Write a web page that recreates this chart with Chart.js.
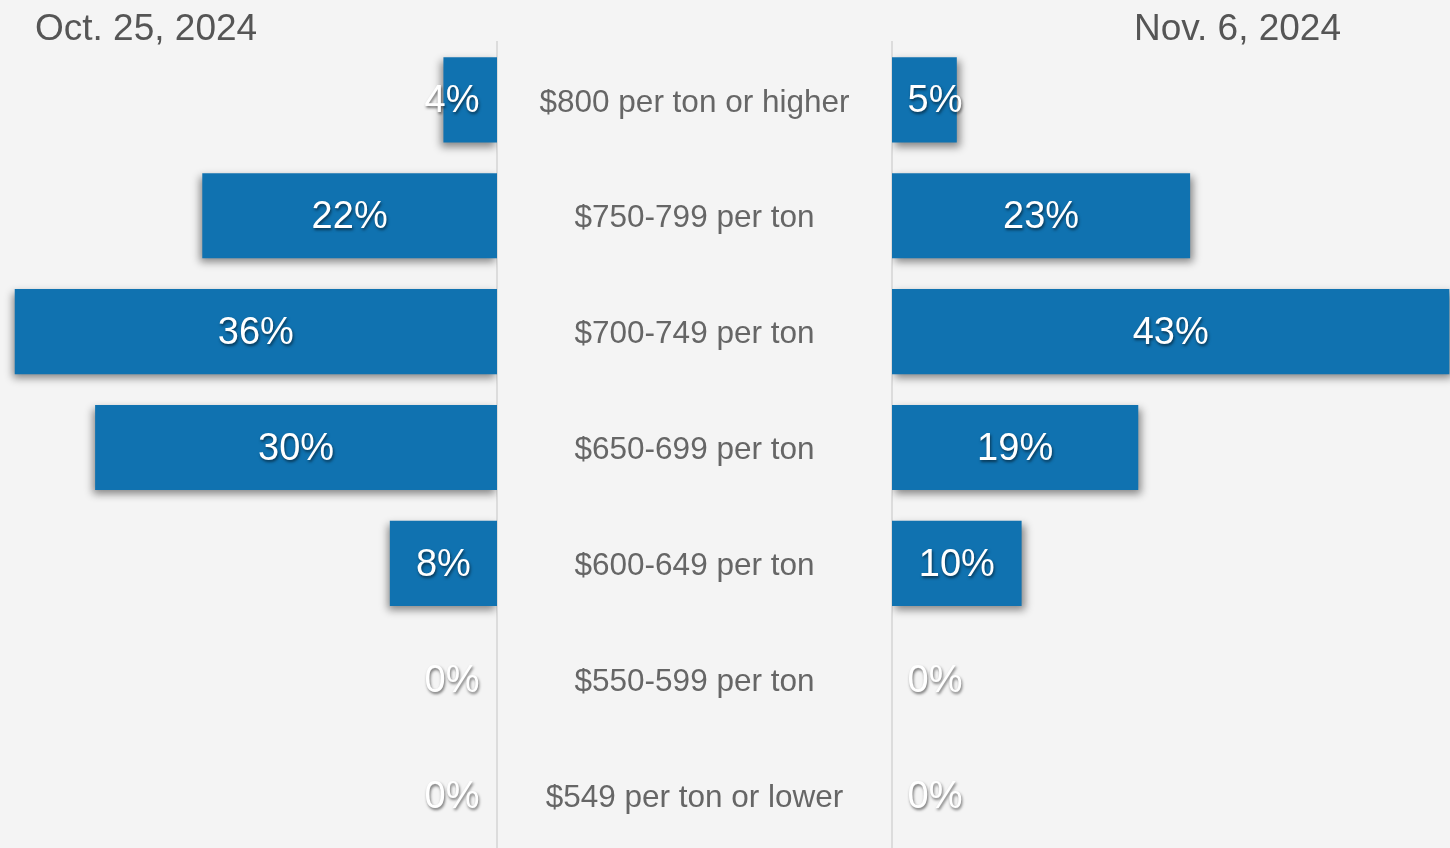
<!DOCTYPE html>
<html>
<head>
<meta charset="utf-8">
<script src="https://cdn.jsdelivr.net/npm/chart.js@4.4.1/dist/chart.umd.min.js"></script>
<style>
  html, body { margin:0; padding:0; background:#f4f4f4; width:1450px; height:848px; overflow:hidden; }
  #wrap { position:relative; width:1450px; height:848px; }
  .hdr { position:absolute; top:6px; font-family:"Liberation Sans", Arial, sans-serif; font-size:37px; color:#555; line-height:44px; white-space:nowrap; }
  #hl { left:35px; }
  #hr { right:109px; }
  #cl { position:absolute; left:0; top:0; }
  #cr { position:absolute; left:497px; top:0; }
</style>
</head>
<body>
<div id="wrap">
  <canvas id="cl" width="498" height="854"></canvas>
  <canvas id="cr" width="953" height="854"></canvas>
  <div class="hdr" id="hl">Oct. 25, 2024</div>
  <div class="hdr" id="hr">Nov. 6, 2024</div>
</div>
<script>
const categories = ["$800 per ton or higher", "$750-799 per ton", "$700-749 per ton", "$650-699 per ton", "$600-649 per ton", "$550-599 per ton", "$549 per ton or lower"];
const oct25 = [4, 22, 36, 30, 8, 0, 0];
const nov6 = [5, 23, 43, 19, 10, 0, 0];
const headers = ["Oct. 25, 2024", "Nov. 6, 2024"];

const FONT = '"Liberation Sans", Arial, sans-serif';
const BAR = '#1072b0';

const barShadow = {
  id: 'barShadow',
  beforeDatasetDraw(chart, args, opts) {
    const ctx = chart.ctx;
    ctx.save();
    ctx.shadowColor = 'rgba(0,0,0,0.45)';
    ctx.shadowBlur = 8;
    ctx.shadowOffsetX = opts.dx || 0;
    ctx.shadowOffsetY = 4;
  },
  afterDatasetDraw(chart) { chart.ctx.restore(); }
};

const valueLabels = {
  id: 'valueLabels',
  afterDatasetsDraw(chart, args, opts) {
    const ctx = chart.ctx;
    const meta = chart.getDatasetMeta(0);
    const zero = chart.scales.x.getPixelForValue(0);
    const data = chart.data.datasets[0].data;
    ctx.save();
    ctx.font = '38px ' + FONT;
    ctx.fillStyle = '#ffffff';
    ctx.textAlign = 'center';
    ctx.textBaseline = 'middle';
    ctx.shadowColor = 'rgba(0,0,0,0.55)';
    ctx.shadowBlur = 3;
    ctx.shadowOffsetX = 1;
    ctx.shadowOffsetY = 2;
    meta.data.forEach((bar, i) => {
      const center = (bar.x + bar.base) / 2;
      const x = opts.side === 'left' ? Math.min(center, zero - 45) : Math.max(center, zero + 43);
      ctx.fillText(data[i] + '%', x, bar.y + 2);
    });
    ctx.restore();
  }
};

const categoryLabels = {
  id: 'categoryLabels',
  afterDraw(chart, args, opts) {
    if (!opts.show) return;
    const ctx = chart.ctx;
    const ys = chart.scales.y;
    const cx = (ys.left + ys.right) / 2;
    ctx.save();
    ctx.font = '31.5px ' + FONT;
    ctx.fillStyle = '#666';
    ctx.textAlign = 'center';
    ctx.textBaseline = 'middle';
    chart.data.labels.forEach((lab, i) => {
      ctx.fillText(lab, cx, ys.getPixelForValue(i) + 3);
    });
    ctx.restore();
  }
};

function baseOptions(side, max) {
  return {
    responsive: false,
    animation: false,
    indexAxis: 'y',
    layout: { padding: { top: 42, bottom: 1, left: 0, right: 0 } },
    plugins: {
      legend: { display: false },
      tooltip: { enabled: false },
      title: { display: false },
      barShadow: { dx: side === 'left' ? -2 : 3 },
      valueLabels: { side: side },
      categoryLabels: { show: side === 'right' }
    },
    scales: {
      x: { display: false, min: 0, max: max, reverse: side === 'left' },
      y: {}
    }
  };
}

const leftOpts = baseOptions('left', 37.1);
leftOpts.scales.y = {
  position: 'right',
  ticks: { display: false },
  grid: { display: false, drawTicks: false },
  border: { display: true, color: '#dcdcdc', width: 2 },
  afterFit(s) { s.width = 1; }
};

new Chart(document.getElementById('cl'), {
  type: 'bar',
  data: {
    labels: categories,
    datasets: [{ label: headers[0], data: oct25, backgroundColor: BAR, borderWidth: 0, categoryPercentage: 1, barPercentage: 0.735 }]
  },
  options: leftOpts,
  plugins: [barShadow, valueLabels, categoryLabels]
});

const rightOpts = baseOptions('right', 43.05);
rightOpts.scales.y = {
  position: 'left',
  ticks: { display: false },
  grid: { display: false, drawTicks: false },
  border: { display: true, color: '#dcdcdc', width: 2 },
  afterFit(s) { s.width = 395; }
};

new Chart(document.getElementById('cr'), {
  type: 'bar',
  data: {
    labels: categories,
    datasets: [{ label: headers[1], data: nov6, backgroundColor: BAR, borderWidth: 0, categoryPercentage: 1, barPercentage: 0.735 }]
  },
  options: rightOpts,
  plugins: [barShadow, valueLabels, categoryLabels]
});
</script>
</body>
</html>
